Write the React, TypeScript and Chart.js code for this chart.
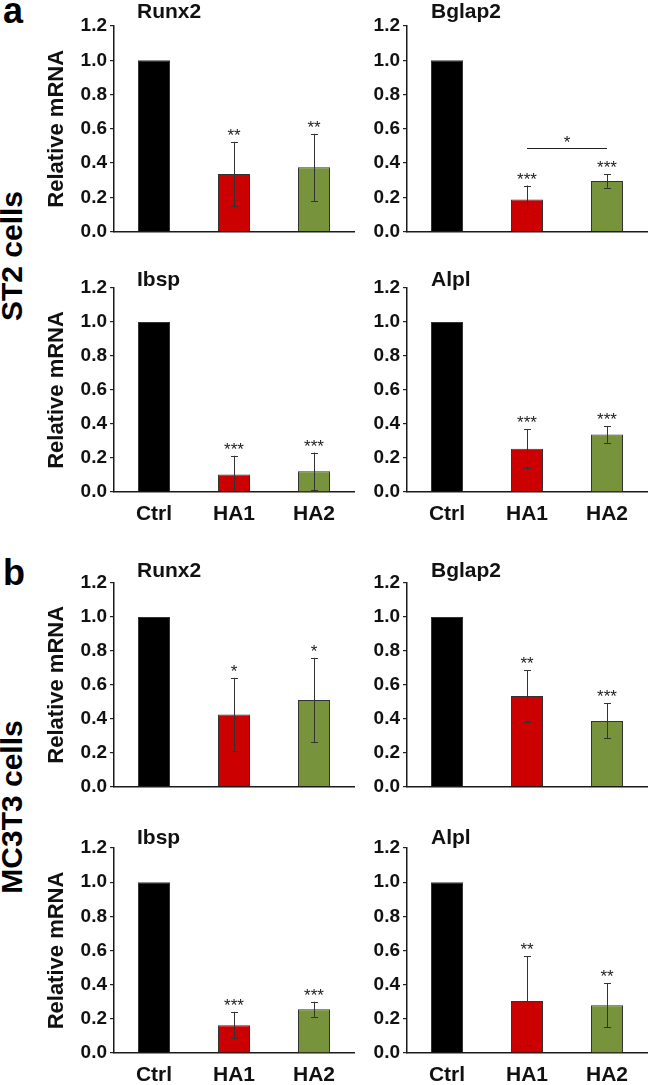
import React, { useEffect, useRef } from 'react';
import { Chart, registerables } from 'chart.js';

Chart.register(...registerables);

const FONT = "'Liberation Sans', Arial, Helvetica, sans-serif";

// ---------- data ----------
const categories = ['Ctrl', 'HA1', 'HA2'];
const barColors = ['#000000', '#cc0000', '#77933c'];
const yTickValues = [0, 0.2, 0.4, 0.6, 0.8, 1.0, 1.2];
const yAxisTitle = 'Relative mRNA';
const sectionLabels = ['a', 'b'];
const cellLabels = ['ST2 cells', 'MC3T3 cells'];

// a: ST2 cells
const st2Runx2 = [1.0, 0.336, 0.375];
const st2Runx2Sd = [0, 0.188, 0.196];
const st2Runx2Sig = ['', '**', '**'];

const st2Bglap2 = [1.0, 0.188, 0.295];
const st2Bglap2Sd = [0, 0.081, 0.039];
const st2Bglap2Sig = ['', '***', '***'];
const st2Bglap2Bracket = [1, 2, 0.49]; // from category, to category, value
const st2Bglap2BracketSig = '*';

const st2Ibsp = [1.0, 0.103, 0.122];
const st2IbspSd = [0, 0.11, 0.11];
const st2IbspSig = ['', '***', '***'];

const st2Alpl = [1.0, 0.254, 0.338];
const st2AlplSd = [0, 0.115, 0.049];
const st2AlplSig = ['', '***', '***'];

// b: MC3T3 cells
const mcRunx2 = [1.0, 0.425, 0.51];
const mcRunx2Sd = [0, 0.216, 0.249];
const mcRunx2Sig = ['', '*', '*'];

const mcBglap2 = [1.0, 0.534, 0.387];
const mcBglap2Sd = [0, 0.152, 0.103];
const mcBglap2Sig = ['', '**', '***'];

const mcIbsp = [1.0, 0.163, 0.256];
const mcIbspSd = [0, 0.078, 0.044];
const mcIbspSig = ['', '***', '***'];

const mcAlpl = [1.0, 0.305, 0.28];
const mcAlplSd = [0, 0.26, 0.128];
const mcAlplSig = ['', '**', '**'];

// ---------- layout ----------
const ROW_TOP = [26, 288, 583, 848];
const ROW_BOTTOM = [232, 492, 787, 1053];
const TITLE_BASELINE = [18, 286, 577, 844];

type PanelProps = {
  title: string;
  values: number[];
  sd: number[];
  sig: string[];
  row: number;
  col: number;
  showX: boolean;
  bracket?: number[];
  bracketSig?: string;
};

function Panel(props: PanelProps) {
  const { title, values, sd, sig, row, col, showX, bracket, bracketSig } = props;
  const ref = useRef<HTMLCanvasElement | null>(null);

  const W = col === 0 ? 330 : 289;
  const canvasLeft = col === 0 ? 30 : 360;
  const padLeft = col === 0 ? 14 : 7;
  const yW = col === 0 ? 70 : 40;
  const padRight = col === 0 ? 6 : 2;
  const padTop = 20;
  const xh = showX ? 40 : 14;
  const H = padTop + (ROW_BOTTOM[row] - ROW_TOP[row]) + xh;
  const canvasTop = ROW_TOP[row] - padTop;

  useEffect(() => {
    if (!ref.current) return;
    const errPlugin = {
      id: 'errs',
      afterDatasetsDraw(chart: any) {
        const ctx = chart.ctx;
        const xs = chart.scales.x;
        const ys = chart.scales.y;
        ctx.save();
        values.forEach((v, i) => {
          const e = sd[i];
          const x = xs.getPixelForValue(i);
          const xr = Math.round(x) + 0.5;
          const topV = v + e;
          const yT = ys.getPixelForValue(topV);
          if (e > 0) {
            const lowRaw = v - e;
            const lowV = Math.max(0, lowRaw);
            const yB = ys.getPixelForValue(lowV);
            ctx.strokeStyle = '#333';
            ctx.lineWidth = 1;
            ctx.beginPath();
            ctx.moveTo(xr, yT);
            ctx.lineTo(xr, yB);
            const yTr = Math.round(yT) + 0.5;
            ctx.moveTo(xr - 3.5, yTr);
            ctx.lineTo(xr + 3.5, yTr);
            if (lowRaw > 0.005) {
              const yBr = Math.round(yB) + 0.5;
              ctx.moveTo(xr - 3.5, yBr);
              ctx.lineTo(xr + 3.5, yBr);
            }
            ctx.stroke();
          }
          if (sig[i]) {
            ctx.font = `17px ${FONT}`;
            ctx.fillStyle = '#222';
            ctx.textAlign = 'center';
            ctx.textBaseline = 'alphabetic';
            ctx.fillText(sig[i], x, yT - 1);
          }
        });
        if (bracket) {
          const x1 = xs.getPixelForValue(bracket[0]);
          const x2 = xs.getPixelForValue(bracket[1]);
          const y = Math.round(ys.getPixelForValue(bracket[2])) + 0.5;
          ctx.strokeStyle = '#222';
          ctx.lineWidth = 1;
          ctx.beginPath();
          ctx.moveTo(x1, y);
          ctx.lineTo(x2, y);
          ctx.stroke();
          if (bracketSig) {
            ctx.font = `17px ${FONT}`;
            ctx.fillStyle = '#222';
            ctx.textAlign = 'center';
            ctx.textBaseline = 'alphabetic';
            ctx.fillText(bracketSig, (x1 + x2) / 2, y - 1);
          }
        }
        ctx.restore();
      },
    };

    const chart = new Chart(ref.current, {
      type: 'bar',
      data: {
        labels: categories,
        datasets: [
          {
            data: values,
            backgroundColor: barColors,
            borderColor: '#333',
            borderWidth: 1,
            barPercentage: 0.4,
            categoryPercentage: 1.0,
          },
        ],
      },
      options: {
        responsive: false,
        animation: false,
        devicePixelRatio: 1,
        layout: { padding: { left: padLeft, right: padRight, top: padTop, bottom: 0 } },
        plugins: {
          legend: { display: false },
          tooltip: { enabled: false },
          title: { display: false },
        },
        scales: {
          x: {
            type: 'category',
            offset: true,
            grid: { display: false, drawTicks: false },
            border: { display: true, color: '#1a1a1a', width: 1.5 },
            ticks: {
              display: showX,
              font: { family: FONT, size: 21, weight: 'bold' },
              color: '#111',
              padding: 10,
              maxRotation: 0,
              autoSkip: false,
            },
            afterFit: (s: any) => {
              s.height = xh;
            },
          },
          y: {
            min: 0,
            max: 1.2,
            afterBuildTicks: (s: any) => {
              s.ticks = yTickValues.map((v) => ({ value: v }));
            },
            ticks: {
              callback: (v: any) => Number(v).toFixed(1),
              font: { family: FONT, size: 19, weight: 'bold' },
              color: '#111',
              padding: 3,
            },
            grid: {
              display: true,
              drawOnChartArea: false,
              drawTicks: true,
              tickLength: 4,
              color: '#222',
              lineWidth: 1.2,
            },
            border: { display: true, color: '#1a1a1a', width: 1.5 },
            title: {
              display: col === 0,
              text: yAxisTitle,
              font: { family: FONT, size: 22, weight: 'bold' },
              color: '#111',
              padding: 0,
            },
            afterFit: (s: any) => {
              s.width = yW;
            },
          },
        },
      } as any,
      plugins: [errPlugin],
    });
    return () => chart.destroy();
  }, []);

  const titleSize = 21;
  const titleLeft = col === 0 ? 137 : 431;
  return (
    <>
      <canvas
        ref={ref}
        width={W}
        height={H}
        style={{ position: 'absolute', left: canvasLeft, top: canvasTop, width: W, height: H }}
      />
      <div
        style={{
          position: 'absolute',
          left: titleLeft,
          top: TITLE_BASELINE[row] - 0.8465 * titleSize,
          fontSize: titleSize,
          lineHeight: `${titleSize}px`,
          fontWeight: 'bold',
          color: '#111',
          whiteSpace: 'nowrap',
        }}
      >
        {title}
      </div>
    </>
  );
}

function Letter({ text, left, baseline }: { text: string; left: number; baseline: number }) {
  const fs = 36;
  return (
    <div
      style={{
        position: 'absolute',
        left,
        top: baseline - 0.8465 * fs,
        fontSize: fs,
        lineHeight: `${fs}px`,
        fontWeight: 'bold',
        color: '#000',
        whiteSpace: 'nowrap',
      }}
    >
      {text}
    </div>
  );
}

function Side({ text, cx, cy }: { text: string; cx: number; cy: number }) {
  const fs = 30;
  return (
    <div
      style={{
        position: 'absolute',
        left: cx,
        top: cy,
        fontSize: fs,
        lineHeight: `${fs}px`,
        fontWeight: 'bold',
        color: '#000',
        whiteSpace: 'nowrap',
        transform: 'translate(-50%, -50%) rotate(-90deg)',
      }}
    >
      {text}
    </div>
  );
}

export default function App() {
  return (
    <div
      style={{
        position: 'absolute',
        left: 0,
        top: 0,
        width: 649,
        height: 1085,
        overflow: 'hidden',
        background: '#fff',
        fontFamily: FONT,
      }}
    >
      <Letter text={sectionLabels[0]} left={3} baseline={23} />
      <Letter text={sectionLabels[1]} left={3} baseline={585} />
      <Side text={cellLabels[0]} cx={12} cy={256} />
      <Side text={cellLabels[1]} cx={12} cy={807} />

      <Panel title="Runx2" values={st2Runx2} sd={st2Runx2Sd} sig={st2Runx2Sig} row={0} col={0} showX={false} />
      <Panel
        title="Bglap2"
        values={st2Bglap2}
        sd={st2Bglap2Sd}
        sig={st2Bglap2Sig}
        row={0}
        col={1}
        showX={false}
        bracket={st2Bglap2Bracket}
        bracketSig={st2Bglap2BracketSig}
      />
      <Panel title="Ibsp" values={st2Ibsp} sd={st2IbspSd} sig={st2IbspSig} row={1} col={0} showX={true} />
      <Panel title="Alpl" values={st2Alpl} sd={st2AlplSd} sig={st2AlplSig} row={1} col={1} showX={true} />

      <Panel title="Runx2" values={mcRunx2} sd={mcRunx2Sd} sig={mcRunx2Sig} row={2} col={0} showX={false} />
      <Panel title="Bglap2" values={mcBglap2} sd={mcBglap2Sd} sig={mcBglap2Sig} row={2} col={1} showX={false} />
      <Panel title="Ibsp" values={mcIbsp} sd={mcIbspSd} sig={mcIbspSig} row={3} col={0} showX={true} />
      <Panel title="Alpl" values={mcAlpl} sd={mcAlplSd} sig={mcAlplSig} row={3} col={1} showX={true} />
    </div>
  );
}
